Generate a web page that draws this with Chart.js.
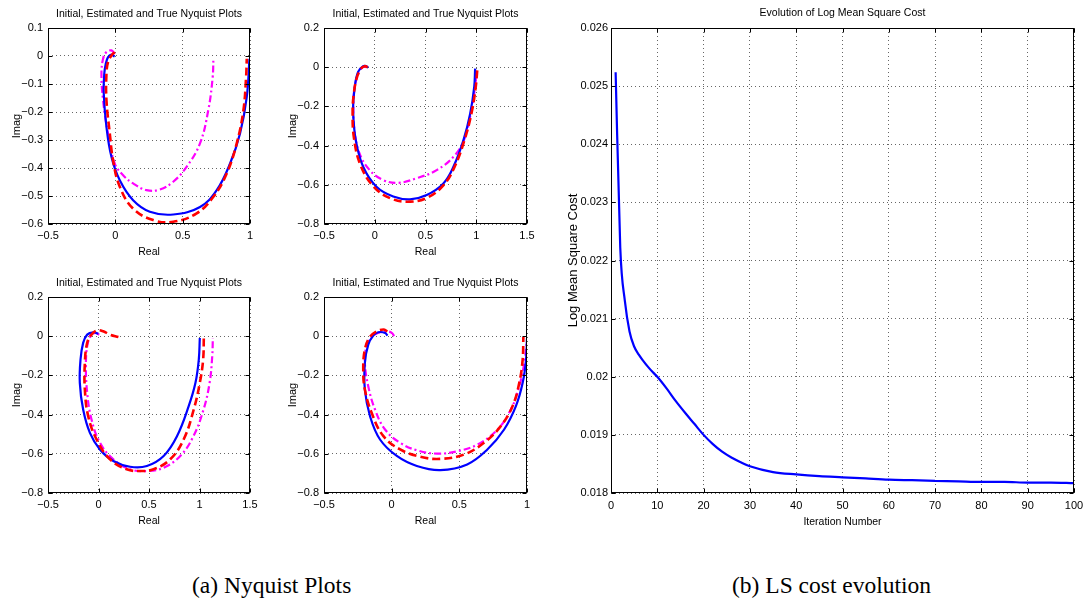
<!DOCTYPE html>
<html><head><meta charset="utf-8">
<script src="https://cdn.jsdelivr.net/npm/chart.js@4.4.0/dist/chart.umd.min.js"></script>
<style>
html,body{margin:0;padding:0;background:#fff;}
#wrap{position:relative;width:1091px;height:601px;overflow:hidden;background:#fff;}
canvas{position:absolute;}
.cap{position:absolute;font-family:"Liberation Serif","Times New Roman",serif;font-size:23.5px;color:#000;white-space:nowrap;line-height:1;}
</style></head><body>
<div id="wrap">
<canvas id="c1" width="270" height="262" style="left:0px;top:0px"></canvas>
<canvas id="c2" width="270" height="262" style="left:276px;top:0px"></canvas>
<canvas id="c3" width="270" height="262" style="left:0px;top:269px"></canvas>
<canvas id="c4" width="270" height="262" style="left:276px;top:269px"></canvas>
<canvas id="c5" width="531" height="535" style="left:560px;top:0px"></canvas>
<div class="cap" style="left:192px;top:574px">(a) Nyquist Plots</div>
<div class="cap" style="left:732px;top:574px">(b) LS cost evolution</div>
</div>
<script>
// ---------- data ----------
const nyqTitle = 'Initial, Estimated and True Nyquist Plots';
const nyqXLabel = 'Real';
const nyqYLabel = 'Imag';
const costTitle = 'Evolution of Log Mean Square Cost';
const costXLabel = 'Iteration Number';
const costYLabel = 'Log Mean Square Cost';

// Plot 1 (top-left)
const p1TrueRe = [-0.005,-0.03,-0.055,-0.072,-0.082,-0.086,-0.066,-0.029,0.033,0.132,0.256,0.43,0.629,0.753,0.852,0.926,0.976,0.996];
const p1TrueIm = [-0.002,0.005,-0.005,-0.03,-0.063,-0.134,-0.253,-0.36,-0.444,-0.515,-0.556,-0.566,-0.539,-0.479,-0.384,-0.277,-0.146,-0.01];
const p1EstRe = [-0.004,-0.029,-0.054,-0.066,-0.066,-0.041,-0.017,0.033,0.132,0.281,0.43,0.604,0.728,0.827,0.901,0.951,0.971,0.976];
const p1EstIm = [0.014,0.002,-0.021,-0.063,-0.158,-0.277,-0.372,-0.467,-0.545,-0.586,-0.592,-0.562,-0.503,-0.42,-0.313,-0.194,-0.075,-0.01];
const p1InitRe = [-0.004,-0.029,-0.066,-0.091,-0.103,-0.091,-0.054,-0.004,0.058,0.132,0.231,0.331,0.43,0.529,0.628,0.69,0.723,0.728];
const p1InitIm = [0.008,0.02,0.014,-0.01,-0.063,-0.158,-0.277,-0.384,-0.426,-0.455,-0.479,-0.477,-0.449,-0.396,-0.313,-0.194,-0.075,-0.01];

// Plot 2 (top-right)
const p2TrueRe = [-0.065,-0.082,-0.114,-0.164,-0.197,-0.213,-0.187,-0.114,0.017,0.182,0.347,0.512,0.676,0.775,0.874,0.94,0.98,0.989];
const p2TrueIm = [-0.002,0.005,0.005,-0.024,-0.101,-0.22,-0.372,-0.508,-0.61,-0.66,-0.674,-0.652,-0.593,-0.508,-0.372,-0.237,-0.1,-0.007];
const p2EstRe = [-0.07,-0.1,-0.14,-0.18,-0.205,-0.218,-0.205,-0.14,-0.01,0.16,0.35,0.52,0.68,0.785,0.885,0.955,0.995,1.01];
const p2EstIm = [0.0,0.005,-0.01,-0.06,-0.13,-0.22,-0.36,-0.5,-0.61,-0.67,-0.686,-0.665,-0.6,-0.51,-0.37,-0.23,-0.1,-0.015];
const p2InitRe = [-0.085,-0.11,-0.15,-0.19,-0.21,-0.2,-0.15,-0.05,0.08,0.23,0.41,0.61,0.79,0.89,0.94,0.975,0.995,1.0];
const p2InitIm = [0.0,0.003,-0.02,-0.08,-0.18,-0.32,-0.44,-0.525,-0.575,-0.59,-0.567,-0.525,-0.449,-0.356,-0.25,-0.15,-0.07,-0.015];

// Plot 3 (bottom-left)
const p3TrueRe = [-0.002,-0.052,-0.112,-0.152,-0.178,-0.185,-0.152,-0.085,0.014,0.147,0.313,0.479,0.645,0.777,0.893,0.96,0.993,1.003];
const p3TrueIm = [0.013,0.02,0.008,-0.034,-0.119,-0.238,-0.374,-0.493,-0.578,-0.637,-0.666,-0.662,-0.611,-0.51,-0.357,-0.238,-0.119,-0.009];
const p3EstRe = [0.197,0.114,0.047,-0.012,-0.069,-0.112,-0.135,-0.135,-0.102,-0.019,0.114,0.28,0.412,0.545,0.71,0.843,0.943,1.003,1.036,1.043];
const p3EstIm = [-0.004,0.008,0.025,0.03,0.008,-0.034,-0.136,-0.272,-0.408,-0.527,-0.628,-0.679,-0.688,-0.679,-0.628,-0.527,-0.374,-0.238,-0.119,-0.004];
const p3InitRe = [0.008,-0.036,-0.079,-0.112,-0.125,-0.112,-0.069,0.014,0.147,0.313,0.479,0.645,0.81,0.94,1.04,1.1,1.126,1.132];
const p3InitIm = [0.008,0.017,0.0,-0.051,-0.153,-0.289,-0.425,-0.543,-0.628,-0.679,-0.688,-0.671,-0.611,-0.51,-0.374,-0.238,-0.102,-0.009];

// Plot 4 (bottom-right)
const p4TrueRe = [-0.031,-0.049,-0.099,-0.136,-0.173,-0.198,-0.198,-0.16,-0.086,0.038,0.186,0.36,0.558,0.707,0.831,0.918,0.968,0.993,1.0];
const p4TrueIm = [0.003,0.017,0.02,0.003,-0.043,-0.136,-0.272,-0.408,-0.527,-0.611,-0.662,-0.683,-0.654,-0.578,-0.476,-0.357,-0.238,-0.119,-0.009];
const p4EstRe = [-0.031,-0.061,-0.111,-0.161,-0.198,-0.21,-0.198,-0.148,-0.061,0.063,0.212,0.36,0.533,0.682,0.806,0.893,0.943,0.968,0.973];
const p4EstIm = [0.025,0.034,0.025,-0.004,-0.068,-0.17,-0.272,-0.391,-0.51,-0.578,-0.615,-0.626,-0.604,-0.544,-0.459,-0.357,-0.238,-0.119,-0.004];
const p4InitRe = [0.018,0.001,-0.036,-0.086,-0.148,-0.186,-0.198,-0.173,-0.123,-0.049,0.063,0.186,0.336,0.484,0.633,0.782,0.881,0.943,0.98,1.0];
const p4InitIm = [0.0,0.017,0.025,0.02,-0.004,-0.051,-0.136,-0.255,-0.374,-0.476,-0.544,-0.582,-0.599,-0.587,-0.553,-0.476,-0.374,-0.255,-0.136,-0.021];

// Cost evolution
const iterations = [1,2,3,4,5,6,7,8,9,10,12,14,16,18,20,22,24,26,28,30,35,40,45,50,55,60,65,70,75,80,85,90,95,100];
const logMSCost = [0.02524,0.02222,0.02130,0.02078,0.02052,0.02038,0.02027,0.02017,0.02008,0.02000,0.01980,0.01958,0.01938,0.01919,0.01900,0.01884,0.01871,0.01861,0.01853,0.01846,0.01836,0.01832,0.01829,0.01827,0.01825,0.01823,0.01822,0.01821,0.01820,0.01819,0.01819,0.01818,0.01818,0.01817];

// ---------- helpers ----------
const FONT = '"Liberation Sans", Arial, Helvetica, sans-serif';
Chart.defaults.font.family = FONT;
Chart.defaults.color = '#000';

const zip = (xs, ys) => xs.map((x, i) => ({x: x, y: ys[i]}));
const fmt = (v, d) => {
  const r = Math.round(v * Math.pow(10, d)) / Math.pow(10, d);
  if (r === 0) return '0';
  return (r < 0 ? '\u2212' : '') + String(Math.abs(r));
};

const boxPlugin = {
  id: 'matlabBox',
  afterDraw(chart) {
    const {ctx, chartArea: a, scales} = chart;
    const L = Math.round(a.left) + 0.5, R = Math.round(a.right) - 0.5;
    const T = Math.round(a.top) + 0.5, B = Math.round(a.bottom) - 0.5;
    ctx.save();
    ctx.strokeStyle = '#000';
    ctx.lineWidth = 1;
    ctx.beginPath();
    const tl = 4;
    scales.x.ticks.forEach(t => {
      const px = Math.round(scales.x.getPixelForValue(t.value)) + 0.5;
      ctx.moveTo(px, B); ctx.lineTo(px, B - tl);
      ctx.moveTo(px, T); ctx.lineTo(px, T + tl);
    });
    scales.y.ticks.forEach(t => {
      const py = Math.round(scales.y.getPixelForValue(t.value)) + 0.5;
      ctx.moveTo(L, py); ctx.lineTo(L + tl, py);
      ctx.moveTo(R, py); ctx.lineTo(R - tl, py);
    });
    ctx.stroke();
    ctx.strokeRect(L, T, R - L, B - T);
    ctx.restore();
  }
};

function axisCommon(min, max, step, dec, tickPad) {
  return {
    type: 'linear', min: min, max: max,
    grid: {color: 'rgba(0,0,0,0.6)', lineWidth: 1, drawTicks: false},
    border: {display: false, dash: [1, 3]},
    ticks: {stepSize: step, autoSkip: false, maxRotation: 0, minRotation: 0, padding: tickPad,
            font: {size: 11}, color: '#000', callback: v => fmt(v, dec)}
  };
}

function makeChart(id, opt) {
  const xs = axisCommon(opt.xMin, opt.xMax, opt.xStep, opt.xDec, opt.xTickPad);
  xs.position = 'bottom';
  xs.title = {display: true, text: opt.xLabel, font: {size: 10.5}, color: '#000', padding: {top: 0, bottom: opt.xTitlePad}};
  xs.afterFit = s => { s.height = opt.xAxisH; };
  const ys = axisCommon(opt.yMin, opt.yMax, opt.yStep, opt.yDec, opt.yTickPad);
  ys.position = 'left';
  ys.title = {display: true, text: opt.yLabel, font: {size: opt.yLabelSize}, color: '#000', padding: {top: opt.yTitlePad, bottom: 0}};
  ys.afterFit = s => { s.width = opt.yAxisW; };
  return new Chart(document.getElementById(id), {
    type: 'scatter',
    data: {datasets: opt.datasets},
    options: {
      responsive: false, animation: false, devicePixelRatio: 1, events: [],
      layout: {padding: {left: 0, right: opt.padR, top: 0, bottom: 0}, autoPadding: false},
      plugins: {
        legend: {display: false}, tooltip: {enabled: false},
        title: {display: true, text: opt.title, fullSize: false, color: '#000',
                font: {size: 10.5, weight: 'normal'}, padding: {top: opt.titlePadTop, bottom: opt.titlePadBottom}}
      },
      scales: {x: xs, y: ys}
    },
    plugins: [boxPlugin]
  });
}

function nyqSets(tRe, tIm, eRe, eIm, iRe, iIm) {
  const base = {showLine: true, pointRadius: 0, fill: false, tension: 0.4, borderCapStyle: 'butt'};
  return [
    Object.assign({label: 'Estimated', data: zip(eRe, eIm), borderColor: '#ff0000', borderWidth: 2.6, borderDash: [8, 4]}, base),
    Object.assign({label: 'True', data: zip(tRe, tIm), borderColor: '#0000ff', borderWidth: 2.2}, base),
    Object.assign({label: 'Initial', data: zip(iRe, iIm), borderColor: '#ff00ff', borderWidth: 2.2, borderDash: [7, 3, 2, 3]}, base)
  ];
}

const nyqCommon = {
  title: nyqTitle, xLabel: nyqXLabel, yLabel: nyqYLabel, yLabelSize: 11,
  xDec: 2, yDec: 2, xStep: 0.5,
  xTickPad: 5.4, yTickPad: 5, xTitlePad: 3.7, yTitlePad: 9.9,
  xAxisH: 38, yAxisW: 48, titlePadTop: 8.2, titlePadBottom: 7.2
};

makeChart('c1', Object.assign({}, nyqCommon, {padR: 20, xMin: -0.5, xMax: 1, yMin: -0.6, yMax: 0.1, yStep: 0.1,
  datasets: nyqSets(p1TrueRe, p1TrueIm, p1EstRe, p1EstIm, p1InitRe, p1InitIm)}));
makeChart('c2', Object.assign({}, nyqCommon, {padR: 19, xMin: -0.5, xMax: 1.5, yMin: -0.8, yMax: 0.2, yStep: 0.2,
  datasets: nyqSets(p2TrueRe, p2TrueIm, p2EstRe, p2EstIm, p2InitRe, p2InitIm)}));
makeChart('c3', Object.assign({}, nyqCommon, {padR: 20, xMin: -0.5, xMax: 1.5, yMin: -0.8, yMax: 0.2, yStep: 0.2,
  datasets: nyqSets(p3TrueRe, p3TrueIm, p3EstRe, p3EstIm, p3InitRe, p3InitIm)}));
makeChart('c4', Object.assign({}, nyqCommon, {padR: 19, xMin: -0.5, xMax: 1, yMin: -0.8, yMax: 0.2, yStep: 0.2,
  datasets: nyqSets(p4TrueRe, p4TrueIm, p4EstRe, p4EstIm, p4InitRe, p4InitIm)}));

makeChart('c5', {
  title: costTitle, xLabel: costXLabel, yLabel: costYLabel, yLabelSize: 13,
  xMin: 0, xMax: 100, xStep: 10, xDec: 0,
  yMin: 0.018, yMax: 0.026, yStep: 0.001, yDec: 4,
  xTickPad: 6.4, yTickPad: 3, xTitlePad: 6.7, yTitlePad: 5.7,
  xAxisH: 42, yAxisW: 51, padR: 17, titlePadTop: 7.2, titlePadBottom: 8.2,
  datasets: [{label: 'Cost', data: zip(iterations, logMSCost), showLine: true, pointRadius: 0, fill: false,
    borderColor: '#0000ff', borderWidth: 2.2, cubicInterpolationMode: 'monotone'}]
});
</script>
</body></html>
